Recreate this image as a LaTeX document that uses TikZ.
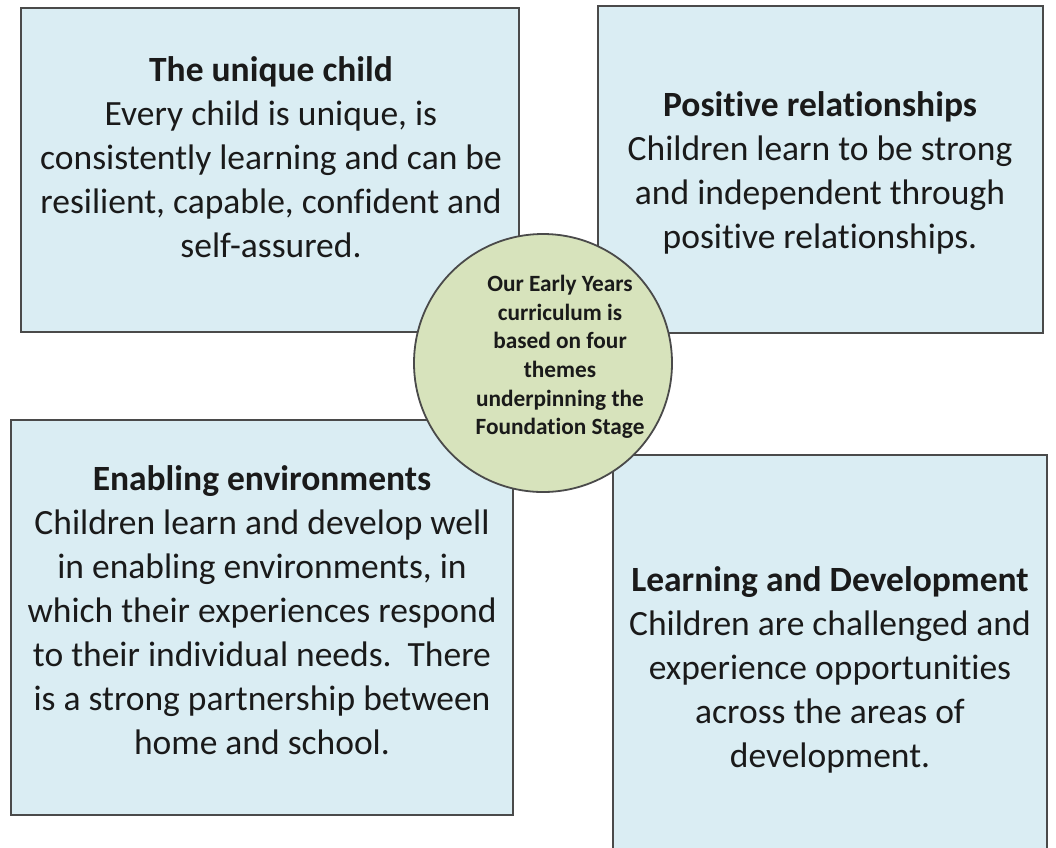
\documentclass[tikz,border=0pt]{standalone}
\usepackage{fontspec}
\setmainfont{Carlito}[Ligatures=NoCommon]
\definecolor{boxfill}{HTML}{DAEDF3}
\definecolor{boxline}{HTML}{4A4A4A}
\definecolor{circfill}{HTML}{D7E3BC}
\definecolor{inktext}{HTML}{1A1A1A}
\tikzset{
  themebox/.style={draw=boxline, fill=boxfill, line width=2pt, rectangle, inner sep=0pt, outer sep=0pt},
  themetext/.style={align=center, text=inktext, inner sep=0pt, font=\fontsize{35.5}{44}\selectfont},
  hub/.style={draw=boxline, fill=circfill, line width=1.8pt, circle, inner sep=0pt},
  hubtext/.style={align=center, text=inktext, inner sep=0pt, font=\fontsize{23.3}{28.6}\selectfont\bfseries}
}
\begin{document}
\begin{tikzpicture}[x=1pt,y=-1pt]
\useasboundingbox (0,0) rectangle (1056,847);
\begin{scope}
\clip (0,0) rectangle (1056,847);
\node[themebox, minimum width=498, minimum height=324] (tl) at (270,170) {};
\node[themebox, minimum width=445, minimum height=327] (tr) at (820.5,169.5) {};
\node[themebox, minimum width=502, minimum height=395] (bl) at (262,617.5) {};
\node[themebox, minimum width=434, minimum height=420] (br) at (830,665) {};
\end{scope}
\node[themetext] (tltext) at (271,157) {\textbf{The unique child}\\Every child is unique, is\\consistently learning and can be\\resilient, capable, confident and\\self-assured.};
\node[themetext] (trtext) at (820,173) {\textbf{Positive relationships}\\Children learn to be strong\\and independent through\\positive relationships.};
\node[themetext] (bltext) at (262,610) {\textbf{Enabling environments}\\Children learn and develop well\\in enabling environments, in\\which their experiences respond\\to their individual needs.\ \ There\\is a strong partnership between\\home and school.};
\node[themetext] (brtext) at (830,670) {\textbf{Learning and Development}\\Children are challenged and\\experience opportunities\\across the areas of\\development.};
\node[hub, minimum size=258] (hub) at (543,363) {};
\node[hubtext] (hubtext) at (560,357) {Our Early Years\\curriculum is\\based on four\\themes\\underpinning the\\Foundation Stage};
\end{tikzpicture}
\end{document}
